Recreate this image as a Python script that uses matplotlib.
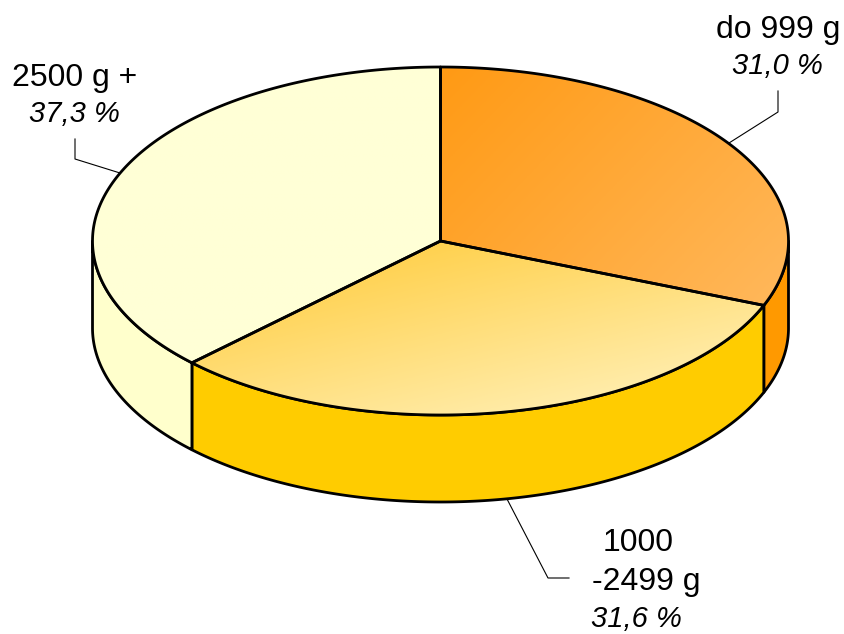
import numpy as np
import matplotlib
matplotlib.use('Agg')
import matplotlib.pyplot as plt
from matplotlib.colors import LinearSegmentedColormap
from matplotlib.patches import Polygon

# data
kategorie = ['do 999 g', '1000\n-2499 g', '2500 g +']
hodnoty = [31.0, 31.6, 37.3]
popisky = ['31,0 %', '31,6 %', '37,3 %']

# geometry of the pie, in pixels of the picture
cx, cy = 440.5, 241
rx, ry = 348, 174
hloubka = 87

plt.rcParams['font.family'] = ['Liberation Sans', 'DejaVu Sans']

fig = plt.figure(figsize=(8.44, 6.34), dpi=100)
ax = fig.add_axes([0, 0, 1, 1])
ax.set_xlim(0, 844)
ax.set_ylim(634, 0)
ax.axis('off')


def bod(t):
    # t = angle clockwise from the top
    return cx + rx * np.sin(t), cy - ry * np.cos(t)


def gradient(patch, barvy, smer):
    cmap = LinearSegmentedColormap.from_list('g', barvy)
    yy, xx = np.mgrid[0:1:300j, 0:1:300j]
    z = xx * smer[0] + yy * smer[1]
    x0, y0 = patch.get_xy().min(axis=0)
    x1, y1 = patch.get_xy().max(axis=0)
    im = ax.imshow(z, cmap=cmap, extent=(x0, x1, y1, y0), aspect='auto', zorder=2)
    im.set_clip_path(patch)
    ax.set_xlim(0, 844)
    ax.set_ylim(634, 0)


hrany = np.cumsum([0] + hodnoty) / sum(hodnoty) * 2 * np.pi

# side wall, only the front half of the ellipse is seen
barvy_bok = ['#FF9900', '#FFCC00', '#FFFFCC']
for i in range(3):
    t0 = max(hrany[i], np.pi / 2)
    t1 = min(hrany[i + 1], 3 * np.pi / 2)
    if t1 <= t0:
        continue
    t = np.linspace(t0, t1, 200)
    x, y = bod(t)
    xy = np.r_[np.c_[x, y], np.c_[x, y + hloubka][::-1]]
    ax.add_patch(Polygon(xy, closed=True, fc=barvy_bok[i], ec='black', lw=2.0, zorder=1, joinstyle='round'))

# top of the pie
gradienty = [
    (['#FF9A14', '#FFB85C'], (0.6, 0.4)),
    (['#FFC933', '#FFF4C4'], (0.45, 0.55)),
    (['#FFFFD6', '#FFFFD6'], (1, 0)),
]
for i in range(3):
    t = np.linspace(hrany[i], hrany[i + 1], 300)
    x, y = bod(t)
    xy = np.r_[[[cx, cy]], np.c_[x, y]]
    p = Polygon(xy, closed=True, fc='none', ec='none', zorder=2)
    ax.add_patch(p)
    gradient(p, gradienty[i][0], gradienty[i][1])
    ax.add_patch(Polygon(xy, closed=True, fc='none', ec='black', lw=2.0, zorder=3, joinstyle='round'))

# leader lines
ax.plot([729, 778, 778], [143, 112, 91], color='black', lw=0.8, zorder=4)
ax.plot([507, 548, 569], [499, 578, 578], color='black', lw=0.8, zorder=4)
ax.plot([120, 75, 75], [173, 159, 139], color='black', lw=0.8, zorder=4)

# labels
vel = 23
ax.text(778, 30, kategorie[0], fontsize=vel, ha='center', va='center')
ax.text(777, 66, popisky[0], fontsize=vel - 2, style='italic', ha='center', va='center')
ax.text(638, 543, '1000', fontsize=vel, ha='center', va='center')
ax.text(646, 582, '-2499 g', fontsize=vel, ha='center', va='center')
ax.text(636, 619, popisky[1], fontsize=vel - 2, style='italic', ha='center', va='center')
ax.text(75, 78, kategorie[2], fontsize=vel, ha='center', va='center')
ax.text(74, 114, popisky[2], fontsize=vel - 2, style='italic', ha='center', va='center')

fig.savefig('out.png', dpi=100)
